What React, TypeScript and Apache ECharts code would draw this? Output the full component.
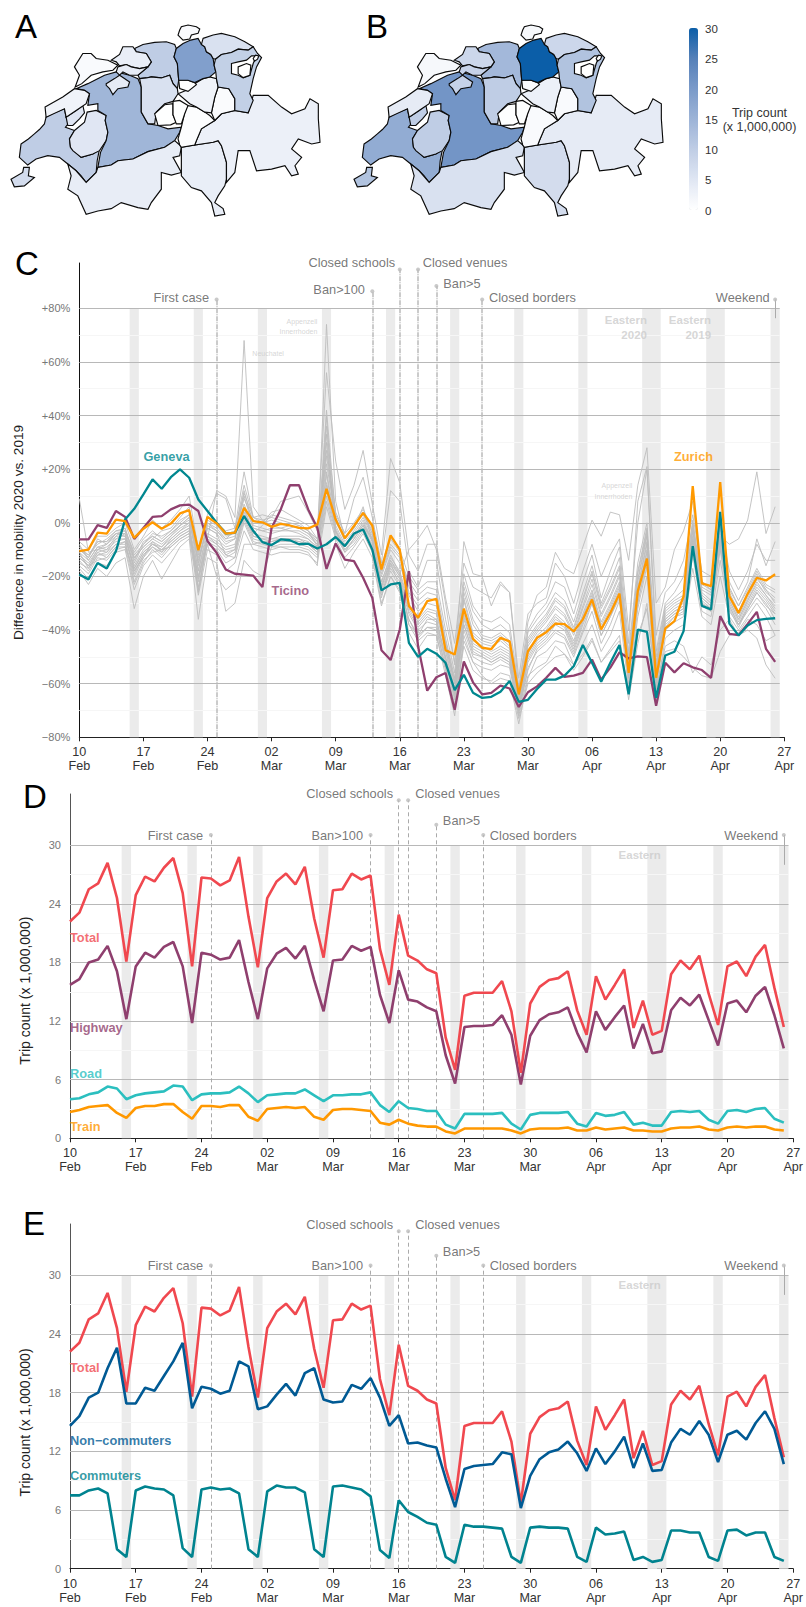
import React, { useEffect, useRef } from "react";
import * as echarts from "echarts";

const FONT = "'Liberation Sans', Arial, sans-serif";

/* ---------- data ---------- */
const xTickLabels = ["10\nFeb","17\nFeb","24\nFeb","02\nMar","09\nMar","16\nMar","23\nMar","30\nMar","06\nApr","13\nApr","20\nApr","27\nApr"];
const weekendDays = [6,13,20,27,34,41,48,55,62,69,76];
const easterC = [[61.5,63.5],[68.5,70.5]];
const easterDE = [[61.5,63.5]];

const zurich = [-10.6,-10,-3.7,-4,1.2,0.6,-5.6,-2.2,0.2,-2.2,-0.3,3.5,4.7,-10.2,2.2,-0.2,-4,-3.7,5.6,0.6,0.2,-1.5,-0.4,-1,-1.9,-2.1,-0.6,12.7,1.2,-5.8,-1.2,3.7,-1,-17.4,-4.7,-10,-31,-35.4,-29.2,-28.4,-47.5,-49.1,-32,-43.3,-46.6,-47.1,-42.9,-44.2,-64,-47.9,-42.9,-40.8,-37.6,-37.8,-40.5,-36,-28.6,-39.8,-33.6,-26.4,-56,-25.5,-13.3,-57.8,-39.4,-36.7,-27.4,13.7,-22.6,-23.6,15.2,-27.4,-33.6,-26.5,-20.5,-21.5,-19.2];
const geneva = [-19.3,-21.1,-15,-17,-10.6,1.2,5.2,10.6,16.2,12.7,17,19.9,16.8,8.7,4.4,0,-4,-3.7,2.5,-3,-7.2,-8.3,-6.2,-6.5,-8,-7.8,-9.6,-8,-5.3,-8.7,-4,-2.5,-10,-25.2,-23,-22.4,-44.8,-50,-47,-48.8,-52.2,-62.4,-56.7,-63.4,-65.3,-64.9,-63,-59,-66.8,-66,-62,-58.5,-58.5,-57,-53.5,-45.6,-52.2,-59.3,-52.2,-45.6,-64,-39.8,-40.7,-65.3,-49.5,-48.1,-40.4,-8.7,-31,-32.3,4.1,-37.6,-42,-38.3,-36.3,-35.8,-35.6];
const ticino = [-6.2,-6.2,-0.9,-1.9,4.4,2.2,-6,-1.9,2.2,2.5,5,6.5,6.8,4.4,-6.8,-11.2,-17.4,-19,-19.3,-19.7,-24,-1.9,5,14,14,5,-1.9,-17.2,-7.7,-13.7,-14.3,-20.5,-28,-47.5,-51.2,-39.8,-18,-46,-62.6,-57.6,-56,-69.7,-51.7,-59.5,-64,-63.4,-60.7,-61.8,-68.7,-63.2,-61,-57.8,-54.1,-57.5,-57,-56,-51,-58.5,-54,-48.3,-50.6,-49.8,-50.1,-68.2,-52.2,-55.8,-52.4,-53.9,-54.9,-57.8,-34.8,-41.4,-41.9,-37.7,-33.2,-47,-51.9];

const gray01 = [9,-11,-10,-8,-4,-5,-17,-11,-8,-9,-5,-1,2,-18,-2,-4,-12,-13,6,-4,-1,3,2,1,0,-3,-9,74,8,-6,-2,6,-7,-22,-12,-19,-10,-6,-1,-10,-30,-53,-7,-19,-20,-31,-23,-26,-62,-37,-27,-24,-11,-17,-19,-9,1,-5,4,3,-14,14,28,-30,-24,-10,-3,8,-22,-25,-5,-8,-6,1,19,-4,6];
const gray02 = [-12,-16,-10,-11,-6,-4,-18,-13,-7,-11,-6,-3,0,-26,-6,12,10,2,68,6,1,-1,-2,-3,-4,-6,-10,30,-3,-9,-5,-1,-6,-24,-14,-20,-38,-42,-36,-36,-50,-64,-38,-49,-50,-52,-50,-52,-70,-55,-47,-44,-40,-42,-49,-40,-30,-42,-35,-28,-58,-30,-14,-60,-39,-35,-34,-6,-30,-33,-5,-31,-38,-32,-26,-31,-34];
const gray03 = [-18,-23,-17,-20,-15,-13,-32,-20,-14,-21,-15,-9,-6,-36,-13,-15,-33,-30,-14,-18,-20,-9,-9,-10,-10,-11,-16,40,-8,-17,-11,-6,-13,-31,-20,-25,-41,-47,-42,-42,-55,-70,-44,-52,-54,-55,-53,-54,-72,-57,-54,-52,-46,-49,-53,-49,-43,-52,-47,-42,-66,-45,-30,-62,-46,-44,-46,-56,-50,-53,-40,-36,-42,-40,-43,-53,-58];
const gray04 = [-7,-10,-5,-5,-2,0,-10,-5,1,-2,1,5,10,-10,3,11,9,-2,19,2,3,2,8,9,10,4,-3,56,23,5,14,27,7,-12,24,15,-12,-18,-8,-8,-28,-45,-15,-24,-26,-28,-22,-26,-58,-34,-30,-28,-15,-20,-30,-18,-8,-20,-12,-6,-40,0,20,-42,-26,-22,-14,3,-18,-20,0,-18,-25,-18,-8,-14,-14];
const gray05 = [-9,-13,-7,-7,-3,-2,-12,-8,-4,-5,-3,1,3,-15,0,-3,-7,-6,12,-1,-2,-3,-3,-2,-1,-3,-7,22,2,-6,-1,3,-4,-19,-9,-13,-22,-27,-24,-25,-43,-58,-24,-36,-42,-43,-41,-44,-65,-43,-38,-34,-28,-31,-39,-28,-18,-31,-24,-16,-50,-18,-2,-52,-33,-30,-28,-2,-25,-27,-2,-26,-33,-26,-19,-25,-28];
const gray06 = [-12,-15,-10,-9,-6,-6,-16,-10,-7,-9,-6,-3,-1,-18,-4,-6,-9,-8,5,-4,-5,-6,-5,-5,-5,-6,-9,15,-1,-8,-4,1,-6,-22,-13,-18,-30,-36,-32,-33,-47,-62,-32,-44,-46,-48,-46,-48,-68,-48,-42,-39,-34,-37,-44,-34,-25,-37,-30,-22,-54,-24,-7,-56,-36,-33,-31,-5,-28,-31,-6,-29,-36,-29,-22,-27,-31];
const gray07 = [-14,-18,-12,-12,-8,-8,-20,-13,-9,-12,-8,-5,-3,-24,-7,-9,-13,-11,1,-7,-8,-9,-8,-8,-8,-9,-12,10,-4,-10,-7,-2,-8,-26,-17,-22,-34,-40,-37,-38,-52,-66,-38,-48,-50,-52,-50,-52,-70,-52,-46,-43,-38,-40,-48,-38,-30,-42,-35,-27,-58,-30,-13,-60,-38,-35,-33,-9,-31,-33,-10,-32,-39,-32,-26,-30,-36];
const gray08 = [-17,-21,-15,-16,-11,-10,-25,-16,-12,-15,-11,-7,-5,-27,-10,-12,-18,-15,-3,-10,-11,-12,-11,-11,-11,-12,-15,6,-6,-13,-9,-4,-11,-30,-20,-26,-38,-44,-41,-42,-57,-72,-42,-52,-57,-60,-58,-59,-75,-58,-50,-48,-44,-45,-53,-45,-38,-48,-42,-33,-62,-35,-20,-64,-43,-40,-38,-17,-35,-38,-20,-35,-40,-35,-30,-35,-42];
const gray09 = [-10,-12,-8,-6,-3,-3,-14,-7,-5,-7,-4,-1,2,-12,1,-1,-5,-4,9,1,0,1,0,-1,-2,-4,-8,19,0,-5,-2,4,-3,-17,-6,-11,-26,-31,-28,-29,-45,-60,-28,-41,-44,-45,-43,-46,-66,-45,-40,-36,-31,-34,-41,-31,-21,-34,-27,-19,-52,-21,-4,-54,-35,-32,-30,-3,-26,-29,-4,-27,-34,-27,-20,-26,-29];
const gray10 = [-13,-16,-14,-13,-9,-7,-22,-14,-11,-10,-9,-6,-4,-20,-8,-20,-25,-22,-8,-8,-7,-7,-6,-6,-7,-8,-11,33,-3,-11,-6,-1,-9,-28,-15,-24,-36,-43,-39,-39,-54,-68,-46,-55,-58,-59,-56,-57,-73,-60,-56,-53,-50,-49,-55,-50,-44,-52,-48,-44,-63,-42,-32,-62,-48,-47,-50,-54,-57,-58,-48,-42,-41,-36,-38,-44,-42];
const gray11 = [-8,-14,-9,-10,-5,-2,-13,-9,-6,-3,-2,2,6,-16,0,-2,-6,-3,14,2,0,4,5,3,1,-1,-6,27,4,-4,9,17,2,-15,12,8,-18,-24,-14,-14,-36,-52,-19,-31,-36,-37,-35,-38,-62,-40,-34,-30,-22,-24,-34,-22,-12,-28,-18,-9,-45,8,21,-48,-30,-26,-20,0,-22,-24,-1,-22,-29,-22,-6,-16,-7];
const gray12 = [-15,-17,-11,-13,-9,-9,-18,-12,-8,-10,-7,-4,-2,-21,-5,-8,-11,-10,3,-5,-6,-7,-6,-6,-6,-8,-10,12,-3,-9,-5,0,-7,-24,-15,-20,-32,-38,-34,-36,-50,-64,-35,-46,-48,-50,-48,-50,-69,-50,-44,-41,-36,-38,-46,-36,-27,-39,-32,-24,-56,-27,-10,-58,-37,-34,-32,-7,-29,-32,-8,-30,-37,-30,-24,-28,-33];
const gray13 = [-11,-14,-9,-8,-5,-5,-13,-9,-6,-8,-5,-2,0,-13,-2,-4,-8,-6,7,-2,-3,-4,-3,-3,-3,-5,-8,25,1,-7,-3,2,-5,-20,-10,-15,-27,-33,-30,-31,-46,-60,-29,-42,-45,-46,-44,-47,-67,-46,-41,-37,-32,-35,-42,-32,-23,-35,-28,-20,-53,-22,-5,-55,-34,-31,-29,-3,-27,-30,-5,-28,-35,-28,-21,-25,-30];
const gray14 = [-13,-16,-11,-10,-7,-6,-17,-11,-8,-10,-7,-4,-2,-20,-5,-7,-10,-9,4,-5,-6,-6,-6,-6,-6,-7,-10,18,-2,-9,-5,0,-6,-23,-14,-19,-31,-37,-33,-34,-48,-63,-34,-45,-47,-49,-47,-49,-69,-49,-43,-40,-35,-38,-45,-35,-26,-38,-31,-23,-55,-25,-8,-57,-36,-33,-31,-6,-28,-31,-7,-29,-36,-29,-23,-27,-32];
const gray15 = [-10,-13,-6,-8,-4,-4,-15,-8,-5,-7,-4,-1,1,-14,-1,-3,-6,-5,10,-2,-3,-2,-2,-1,-2,-4,-7,42,2,-6,-2,4,-4,-18,-8,-12,-24,-29,-26,-27,-44,-59,-26,-38,-43,-44,-42,-45,-66,-44,-39,-35,-29,-32,-40,-29,-19,-32,-25,-17,-51,-19,-3,-53,-32,-29,-27,-1,-24,-26,-1,-25,-31,-25,-18,-24,-26];
const gray16 = [-16,-19,-13,-14,-10,-9,-23,-15,-10,-13,-9,-6,-4,-25,-8,-10,-15,-13,0,-8,-9,-10,-9,-9,-9,-10,-13,8,-5,-11,-8,-3,-9,-27,-18,-24,-36,-42,-39,-40,-54,-68,-40,-50,-52,-53,-51,-53,-71,-54,-48,-45,-41,-43,-50,-41,-33,-45,-38,-29,-60,-32,-16,-61,-40,-37,-35,-12,-33,-35,-14,-33,-38,-33,-28,-32,-38];
const gray17 = [-9,-12,-7,-7,-4,-3,-11,-6,-3,-6,-3,0,3,-11,2,0,-3,-2,11,2,1,2,1,0,-1,-3,-6,36,3,-4,0,5,-2,-16,-5,-10,-20,-25,-22,-22,-40,-56,-22,-33,-38,-40,-38,-41,-64,-41,-36,-32,-26,-29,-37,-26,-16,-30,-22,-13,-48,-15,0,-50,-31,-28,-25,1,-23,-25,1,-24,-31,-24,-17,-23,-25];
const gray18 = [-11,-17,-12,-11,-8,-7,-19,-12,-9,-11,-8,-5,-3,-22,-6,-8,-12,-10,2,-6,-7,-8,-7,-7,-7,-8,-11,14,-3,-10,-6,-1,-7,-25,-16,-21,-33,-39,-35,-37,-51,-65,-36,-47,-49,-51,-49,-51,-70,-51,-45,-42,-37,-39,-47,-37,-28,-40,-33,-25,-57,-28,-11,-59,-37,-34,-32,-8,-30,-32,-9,-31,-38,-31,-25,-29,-34];
const grayLines = [gray01,gray02,gray03,gray04,gray05,gray06,gray07,gray08,gray09,gray10,gray11,gray12,gray13,gray14,gray15,gray16,gray17,gray18];

const total = [22.2,23.1,25.5,26.1,28.2,24.6,18.1,24.9,26.8,26.3,27.7,28.7,25.1,17.6,26.7,26.6,25.9,26.4,28.8,22.7,17.5,24.6,26.3,27.1,26,27.8,22.5,18.5,25.4,25.5,27.1,26.5,26.9,19.4,15.7,22.9,18.7,18.2,17.3,16.9,10.3,7,14.6,14.9,14.9,14.9,16.1,13,6.7,13.8,15.5,16.2,16.4,17.1,13.1,10.6,16.6,14.2,15.7,17.3,11.3,14.1,10.6,11,16.8,18.2,17.3,18.7,14.8,11.6,17.6,18.1,16.6,18.6,19.8,15.4,11.4];
const highway = [15.7,16.3,18,18.3,19.7,17.1,12.2,17.6,19,18.5,19.6,20.1,17.6,11.8,19,18.8,18.3,18.5,20.3,16,12.2,17.4,18.9,19.5,18.4,19.7,16.2,13,18.2,18.3,19.7,19.2,19.6,14.7,11.8,17.2,14.2,14,13.4,13,8.5,5.6,11.4,11.5,11.5,11.6,12.6,10.6,5.5,10.5,12.1,12.7,12.9,13.4,10.8,8.8,13,11.1,12.4,13.6,9.2,11.7,8.7,8.9,13.1,14.4,13.6,14.7,12.1,9.5,13.8,14.1,12.9,14.6,15.5,12.6,9.2];
const road = [4,4.1,4.5,4.7,5.3,5.1,4,4.4,4.6,4.7,4.8,5.4,5.3,3.9,4.5,4.6,4.6,4.7,5.3,4.6,3.7,4.4,4.5,4.6,4.6,5,4.4,3.8,4.4,4.4,4.5,4.5,4.7,3.4,2.7,3.8,3.1,3,2.8,2.8,1.4,1,2.5,2.5,2.5,2.5,2.6,1.5,0.9,2.4,2.6,2.6,2.6,2.7,1.5,1.2,2.6,2.3,2.4,2.7,1.4,1.6,1.3,1.3,2.7,2.8,2.7,2.8,1.9,1.5,2.8,2.9,2.7,3,3.1,2,1.6];
const train = [2.7,2.9,3.2,3.3,3.4,2.6,2.1,3.1,3.3,3.3,3.5,3.5,2.7,2,3.3,3.3,3.2,3.4,3.4,2.2,1.8,3,3.1,3.2,3.1,3.2,2.2,1.9,2.9,3,3,2.9,2.8,1.6,1.4,1.9,1.5,1.3,1.2,1.2,0.7,0.5,1,1,1,1,1,0.8,0.5,0.9,1,1,1,1.1,0.8,0.8,1.1,0.9,1,1.1,0.8,0.8,0.7,0.7,1,1.1,1.1,1.2,0.9,0.8,1.1,1.2,1.1,1.2,1.2,0.9,0.8];
const nonCommuters = [14.6,15.6,17.5,18,20.5,22.6,16.9,16.9,18.5,18.2,19.7,21.2,23.1,16.4,18.6,18.4,17.9,18.2,21.2,20.7,16.3,16.6,17.8,18.9,17.7,20,20.5,17.3,17,17.1,18.8,18.4,19.5,17.5,14.6,15.7,12.8,12.9,12.6,12.4,9.2,6.3,10.2,10.5,10.6,10.7,11.9,11.7,6.2,9.5,11.2,11.9,12.2,13,11.8,10,12.3,10.7,12,13.5,10.3,12.8,10,10.1,12.9,14.3,13.7,15.1,13.7,10.9,13.7,14.1,13.2,14.9,16.1,14.3,10.7];
const commuters = [7.5,7.5,8,8.2,7.7,2,1.2,8,8.4,8.2,8.1,7.5,2.1,1.2,8.1,8.3,8.1,8.2,7.7,2,1.2,7.9,8.5,8.3,8.3,7.8,2,1.2,8.4,8.5,8.3,8.1,7.4,1.9,1.1,7,5.8,5.3,4.7,4.5,1.2,0.6,4.5,4.3,4.3,4.2,4.1,1.2,0.6,4.2,4.3,4.2,4.2,4.1,1.2,0.7,4.2,3.5,3.6,3.8,0.9,1.2,0.7,0.9,3.9,3.9,3.7,3.7,1.2,0.8,3.9,4,3.4,3.7,3.7,1.2,0.8];

const cantonNames = ["ZH","BE","AG","VD","SG","TG","LU","FR","SO","BL","NE","GE","VS","TI","GR","UR","SZ","GL","JU","SH","ZG","OW","NW","AR","AI","RH"];
const tripsA = [19,14.5,10,10,9.5,6,6,5,4,3.5,2.5,7,3.7,3.5,3,0.5,2.5,0.8,1,1,0.3,0.1,0.1,0,0,0];
const tripsB = [30,21,14,16.5,12,8,10,10,9,8,4,12,6,7,4,1,3,1,1.5,1.5,1,0.3,0.3,0,0,0];
const legendTicks = [30,25,20,15,10,5,0];

/* canton outlines */
const cantonShapes: Record<string, number[][][]> = {
  VD: [[[50,355],[72,340],[90,325],[105,312],[120,295],[125,275],[150,262],[180,250],[185,275],[210,265],[195,290],[183,305],[210,315],[195,340],[198,365],[230,395],[265,385],[285,370],[278,405],[275,440],[245,470],[230,450],[215,435],[190,415],[165,395],[130,390],[95,400],[70,418],[45,395]]],
  FR: [[[210,315],[240,290],[248,260],[275,255],[305,270],[302,285],[310,320],[305,345],[285,375],[265,385],[230,395],[205,375],[198,365],[195,340]],[[185,275],[215,255],[235,240],[240,262],[225,280],[205,300],[190,300]]],
  BE: [[[215,190],[250,175],[300,150],[335,140],[375,150],[400,160],[410,185],[410,260],[430,295],[460,300],[490,310],[530,305],[525,320],[510,345],[480,365],[430,378],[385,400],[340,405],[320,418],[280,425],[288,380],[305,345],[310,320],[302,285],[305,270],[280,255],[280,235],[250,240],[255,205],[240,195]]],
  AG: [[[390,70],[415,58],[450,52],[485,50],[510,58],[515,70],[508,95],[518,115],[520,140],[522,165],[518,190],[505,175],[495,150],[470,158],[440,155],[425,158],[405,160],[400,150],[430,125],[440,110],[425,85],[395,80]]],
  BL: [[[320,105],[345,88],[355,65],[385,65],[395,80],[425,85],[440,110],[430,125],[405,130],[380,125],[365,118],[345,122],[335,110]]],
  JU: [[[210,125],[235,85],[260,85],[275,100],[310,105],[340,120],[325,135],[295,140],[260,150],[232,175],[212,185],[225,150]]],
  SO: [[[340,125],[365,118],[380,125],[405,130],[430,125],[400,150],[375,150],[355,140],[345,150],[335,140]],[[305,175],[330,160],[345,150],[375,170],[370,185],[340,190],[325,208],[315,190],[305,180]]],
  NE: [[[122,245],[175,215],[210,190],[240,195],[255,205],[245,235],[215,255],[185,275],[180,250],[125,275]]],
  GE: [[[20,460],[55,440],[58,425],[75,425],[72,450],[90,455],[60,480],[30,483]]],
  VS: [[[190,415],[215,435],[245,470],[275,440],[280,425],[320,418],[340,405],[385,400],[430,378],[480,365],[510,345],[525,358],[530,365],[525,390],[505,395],[530,440],[500,448],[470,440],[470,490],[440,530],[430,550],[400,545],[350,530],[320,548],[280,555],[245,565],[220,510],[190,490],[200,450]]],
  TI: [[[530,365],[570,358],[625,350],[640,345],[650,360],[665,410],[665,460],[660,480],[640,510],[630,530],[655,548],[660,565],[630,570],[620,530],[590,495],[560,485],[530,450],[530,400]]],
  GR: [[[575,345],[590,310],[630,285],[650,265],[690,255],[730,262],[745,210],[790,210],[830,245],[860,265],[900,250],[915,220],[940,235],[940,280],[945,350],[920,355],[880,340],[860,370],[890,395],[870,420],[880,445],[860,450],[840,420],[800,430],[755,435],[735,375],[700,375],[690,440],[665,470],[665,410],[650,360],[640,345],[625,350],[570,358]]],
  UR: [[[530,305],[545,240],[575,245],[600,260],[615,270],[630,285],[590,310],[575,345],[570,358],[530,365],[525,358],[520,340]]],
  GL: [[[620,262],[630,215],[640,185],[672,190],[690,220],[690,255],[650,265],[630,285]]],
  SZ: [[[520,205],[545,195],[570,175],[595,160],[615,155],[635,160],[640,185],[630,215],[620,262],[600,260],[575,245],[555,235]]],
  ZG: [[[522,165],[550,165],[570,172],[575,178],[550,198],[525,190]]],
  LU: [[[405,160],[425,158],[440,155],[470,158],[495,150],[505,175],[518,190],[520,205],[505,228],[480,235],[455,260],[450,295],[430,295],[410,260],[410,185]]],
  OW: [[[450,265],[480,238],[505,235],[505,268],[515,290],[498,298],[460,300]]],
  NW: [[[505,228],[525,225],[550,240],[540,265],[530,295],[515,295],[505,268]]],
  SH: [[[525,15],[530,5],[550,0],[575,5],[585,12],[580,25],[560,30],[555,42],[535,45],[520,30]]],
  ZH: [[[558,45],[580,40],[590,58],[600,65],[605,80],[618,88],[625,100],[628,120],[633,140],[615,155],[595,160],[570,172],[550,165],[522,165],[520,140],[518,115],[508,95],[515,70],[535,55]]],
  TG: [[[595,40],[625,30],[650,25],[690,35],[720,50],[745,65],[730,75],[700,72],[680,82],[650,88],[632,102],[625,100],[618,88],[605,80],[600,65],[590,58]]],
  SG: [[[632,102],[650,88],[680,82],[700,72],[730,75],[745,65],[758,85],[770,97],[755,125],[745,160],[735,205],[745,225],[730,262],[690,255],[690,220],[672,190],[640,185],[635,160],[633,140],[628,120]]],
  AR: [[[680,115],[700,110],[725,105],[740,92],[755,92],[745,115],[735,150],[715,158],[700,150],[680,145]]],
  AI: [[[700,125],[725,115],[738,120],[735,150],[715,157],[700,145]]],
  RH: [[[745,100],[752,90],[762,92],[758,102],[749,108]]],
};

const geoJson = {
  type: "FeatureCollection",
  features: Object.keys(cantonShapes).map((name) => ({
    type: "Feature",
    properties: { name },
    geometry: {
      type: "MultiPolygon",
      coordinates: cantonShapes[name].map((ring) => [ring.map(([x, y]) => [x, -y])]),
    },
  })),
};

/* ---------- panels ---------- */
const C_EVENTS = [
  { day: 15, top: 83.3 }, { day: 32, top: 86.4 }, { day: 35, top: 94.5 },
  { day: 37, top: 94.5 }, { day: 39, top: 88.3 }, { day: 44, top: 83.3 },
];
const D_EVENTS = [
  { day: 15, top: 31.05 }, { day: 32, top: 31.05 }, { day: 35, top: 34.6 },
  { day: 36, top: 34.6 }, { day: 39, top: 32.1 }, { day: 44, top: 31.05 },
];
const E_EVENTS = [
  { day: 15, top: 31 }, { day: 32, top: 31 }, { day: 35, top: 34.5 },
  { day: 36, top: 34.5 }, { day: 39, top: 32 }, { day: 44, top: 31 },
];

const GRAY_TXT = "#555555";
type Note = [string, number, number, "l" | "r", string, number, string];
const cNotes: Note[] = [
  ["First case",14.17,84.2,"r",GRAY_TXT,12.8,"normal"],
  ["Ban>100",31.2,87,"r",GRAY_TXT,12.8,"normal"],
  ["Closed schools",34.5,97.2,"r",GRAY_TXT,12.8,"normal"],
  ["Closed venues",37.5,97.2,"l",GRAY_TXT,12.8,"normal"],
  ["Ban>5",39.75,89.2,"l",GRAY_TXT,12.8,"normal"],
  ["Closed borders",44.75,84.2,"l",GRAY_TXT,12.8,"normal"],
  ["Weekend",75.4,84.2,"r",GRAY_TXT,12.8,"normal"],
  ["Geneva",7,24.9,"l","#00878f",12.8,"bold"],
  ["Ticino",21,-25.1,"l","#8f3f6e",12.8,"bold"],
  ["Zurich",64.95,24.9,"l","#ff9900",12.8,"bold"],
  ["Eastern",62,75.5,"r","#cccccc",11.5,"bold"],
  ["2020",62,69.9,"r","#cccccc",11.5,"bold"],
  ["Eastern",69,75.5,"r","#cccccc",11.5,"bold"],
  ["2019",69,69.9,"r","#cccccc",11.5,"bold"],
  ["Appenzell",26,75.2,"r","#cccccc",7,"normal"],
  ["Innerrhoden",26,71.3,"r","#cccccc",7,"normal"],
  ["Neuchatel",18.9,63,"l","#cccccc",7,"normal"],
  ["Appenzell",60.4,14,"r","#cccccc",7,"normal"],
  ["Innerrhoden",60.4,9.9,"r","#cccccc",7,"normal"],
];
const eventNotes = (y1: number, y2: number, y3: number): Note[] => [
  ["First case",14.18,y1,"r",GRAY_TXT,12.8,"normal"],
  ["Ban>100",31.2,y1,"r",GRAY_TXT,12.8,"normal"],
  ["Closed schools",34.4,y2,"r",GRAY_TXT,12.8,"normal"],
  ["Closed venues",36.75,y2,"l",GRAY_TXT,12.8,"normal"],
  ["Ban>5",39.7,y3,"l",GRAY_TXT,12.8,"normal"],
  ["Closed borders",44.7,y1,"l",GRAY_TXT,12.8,"normal"],
  ["Weekend",75.4,y1,"r",GRAY_TXT,12.8,"normal"],
];
const dNotes: Note[] = [
  ...eventNotes(31,35.3,32.5),
  ["Total",0,20.6,"l","#f0484f",12.8,"bold"],
  ["Highway",0,11.3,"l","#8f3f6e",12.8,"bold"],
  ["Road",0,6.6,"l","#2bbfbf",12.8,"bold"],
  ["Train",0,1.2,"l","#ff9800",12.8,"bold"],
  ["Eastern",62.9,29,"r","#cccccc",11.5,"bold"],
];
const eNotes: Note[] = [
  ...eventNotes(31,35.2,32.4),
  ["Total",0,20.55,"l","#f0484f",12.8,"bold"],
  ["Non\u2212commuters",0,13.1,"l","#005a94",12.8,"bold"],
  ["Commuters",0,9.5,"l","#00838f",12.8,"bold"],
  ["Eastern",62.9,29,"r","#cccccc",11.5,"bold"],
];

function buildOption() {
  const grids: any[] = [];
  const xAxes: any[] = [];
  const yAxes: any[] = [];
  const series: any[] = [];

  const panel = (idx: number, cfg: any) => {
    grids.push({ left: cfg.left, top: cfg.top, width: cfg.width, height: cfg.height });
    xAxes.push({
      type: "value", gridIndex: idx, min: 0, max: 77, interval: 7,
      splitLine: { show: false },
      axisLine: { onZero: false, lineStyle: { color: "#222", width: 1 } },
      axisTick: { length: 4, lineStyle: { color: "#222", width: 1 } },
      axisLabel: {
        margin: 8, fontSize: 12.6, lineHeight: 14, color: "#333", fontFamily: FONT,
        formatter: (v: number) => xTickLabels[Math.round(v / 7)],
      },
    });
    yAxes.push({
      type: "value", gridIndex: idx, min: cfg.yMin, max: cfg.yMax, interval: cfg.yStep,
      splitLine: { show: false },
      axisTick: { show: false },
      axisLine: { show: true, onZero: false, lineStyle: { color: cfg.axisColor, width: 1 } },
      axisLabel: {
        margin: 9, fontSize: 11, color: "#777", fontFamily: FONT, showMaxLabel: false,
        formatter: cfg.yFmt,
      },
    });
    const base = { xAxisIndex: idx, yAxisIndex: idx, silent: true, symbol: "none", animation: false };
    const ghost = { data: [[0, cfg.yTop]], lineStyle: { opacity: 0 } };
    const bands: number[][] = [
      ...cfg.weekends.map((d: number) => [d - 0.5, d + 0.5]),
      ...cfg.easter,
    ];
    series.push({
      ...base, ...ghost, type: "line", z: 1,
      markArea: {
        silent: true, z: 1, itemStyle: { color: "#ebebeb" },
        data: bands.map(([a, b]) => [{ coord: [a, cfg.yTop] }, { coord: [b, cfg.yMin] }]),
      },
    });
    const major: number[] = [];
    const minor: number[] = [];
    for (let v = cfg.yMin + cfg.yStep; v <= cfg.yTop; v += cfg.yStep) major.push(v);
    for (let v = cfg.yMin + cfg.yStep / 2; v < cfg.yTop; v += cfg.yStep) minor.push(v);
    series.push({
      ...base, ...ghost, type: "line", z: 2,
      markLine: {
        silent: true, z: 2, symbol: ["none", "none"], label: { show: false },
        data: [
          ...minor.map((v) => [
            { coord: [0, v], lineStyle: { color: "#f6f6f6", width: 1, type: "solid" } },
            { coord: [76.5, v] },
          ]),
          ...major.map((v) => [
            { coord: [0, v], lineStyle: { color: "#b8b8b8", width: 1, type: "solid" } },
            { coord: [76.5, v] },
          ]),
        ],
      },
    });
    series.push({
      ...base, ...ghost, type: "line", z: 3,
      markLine: {
        silent: true, z: 3, symbol: ["none", "none"], label: { show: false },
        data: [
          ...cfg.events.map((e: any) => [
            { coord: [e.day, cfg.yMin], lineStyle: cfg.eventStyle },
            { coord: [e.day, e.top] },
          ]),
          [
            { coord: [76, cfg.weekend[0]], lineStyle: { color: "#aaaaaa", width: 1, type: "solid" } },
            { coord: [76, cfg.weekend[1]] },
          ],
        ],
      },
    });
    series.push({
      type: "scatter", xAxisIndex: idx, yAxisIndex: idx, silent: true, clip: false, z: 3,
      symbol: "circle", symbolSize: 4, itemStyle: { color: "#bbbbbb" },
      data: [...cfg.events.map((e: any) => [e.day, e.top]), [76, cfg.weekend[0]]],
    });
    (cfg.gray || []).forEach((arr: number[], i: number) => {
      series.push({
        ...base, type: "line", z: 4, name: `canton-${i}`,
        data: arr.map((v, d) => [d, v]),
        lineStyle: { color: "#bdbdbd", width: 0.9 },
      });
    });
    cfg.lines.forEach(([name, arr, color]: [string, number[], string]) => {
      series.push({
        ...base, type: "line", z: 5, name,
        data: arr.map((v, d) => [d, v]),
        lineStyle: { color, width: cfg.lineWidth }, clip: false,
      });
    });
    series.push({
      type: "scatter", xAxisIndex: idx, yAxisIndex: idx, silent: true, clip: false, z: 6,
      symbolSize: 0,
      data: cfg.notes.map((n: Note) => ({
        value: [n[1], n[2]],
        label: {
          show: true, position: n[3] === "l" ? "right" : "left", distance: 0,
          formatter: () => n[0], color: n[4], fontSize: n[5], fontWeight: n[6], fontFamily: FONT,
        },
      })),
    });
  };

  const mapBase = {
    type: "map", aspectScale: 1, preserveAspect: false, roam: false, silent: true,
    top: 25, width: 309, height: 191, selectedMode: false, showLegendSymbol: false,
    emphasis: { disabled: true }, label: { show: false },
    itemStyle: { borderColor: "#0a0a0a", borderWidth: 1.15 },
  };
  series.push({ ...mapBase, map: "swissA", left: 11, data: cantonNames.map((name, i) => ({ name, value: tripsA[i] })) });
  series.push({ ...mapBase, map: "swissB", left: 354, data: cantonNames.map((name, i) => ({ name, value: tripsB[i] })) });

  panel(0, {
    left: 79.3, top: 263, width: 705, height: 474.3, yMin: -80, yMax: 96.9, yStep: 20, yTop: 80,
    axisColor: "#111", lineWidth: 2.3,
    yFmt: (v: number) => (v > 0 ? `+${v}%` : v < 0 ? `\u2212${-v}%` : "0%"),
    weekends: weekendDays, easter: easterC,
    events: C_EVENTS, eventStyle: { color: "#bbbbbb", width: 1.5, type: [5, 1, 1, 1] },
    weekend: [83.3, 76.3],
    gray: grayLines,
    lines: [["Ticino", ticino, "#8f3f6e"], ["Geneva", geneva, "#00878f"], ["Zurich", zurich, "#ff9900"]],
    notes: cNotes,
  });
  panel(1, {
    left: 70, top: 794, width: 725.7, height: 344.3, yMin: 0, yMax: 35.25, yStep: 6, yTop: 30,
    axisColor: "#555", lineWidth: 2.6,
    yFmt: (v: number) => `${v}`,
    weekends: weekendDays, easter: easterDE,
    events: D_EVENTS, eventStyle: { color: "#aaaaaa", width: 1, type: [4, 3] },
    weekend: [31.05, 28],
    lines: [["Train", train, "#ff9800"], ["Road", road, "#2bbfbf"], ["Highway", highway, "#8f3f6e"], ["Total", total, "#f0484f"]],
    notes: dNotes,
  });
  panel(2, {
    left: 70, top: 1224, width: 725.7, height: 344.7, yMin: 0, yMax: 35.25, yStep: 6, yTop: 30,
    axisColor: "#555", lineWidth: 2.6,
    yFmt: (v: number) => `${v}`,
    weekends: weekendDays, easter: easterDE,
    events: E_EVENTS, eventStyle: { color: "#aaaaaa", width: 1, type: [4, 3] },
    weekend: [31, 28],
    lines: [["Commuters", commuters, "#00838f"], ["Total", total, "#f0484f"], ["Non\u2212commuters", nonCommuters, "#005a94"]],
    notes: eNotes,
  });

  const letter = (t: string, x: number, y: number) => ({
    type: "text", x, y, silent: true,
    style: { text: t, fontSize: 33, fontFamily: FONT, fill: "#000", verticalAlign: "middle" },
  });
  const yTitle = (t: string, x: number, y: number, size: number) => ({
    type: "text", x, y, rotation: Math.PI / 2, silent: true,
    style: { text: t, fontSize: size, fontFamily: FONT, fill: "#222", align: "center", verticalAlign: "middle" },
  });
  const graphic: any[] = [
    letter("A", 15, 26), letter("B", 366, 26), letter("C", 15, 263), letter("D", 23, 796), letter("E", 23, 1223),
    yTitle("Difference in mobility 2020 vs. 2019", 18, 532.5, 13.6),
    yTitle("Trip count (x 1,000,000)", 25, 990.7, 14),
    yTitle("Trip count (x 1,000,000)", 25, 1422.5, 14),
    { type: "text", x: 759.5, y: 113, silent: true, style: { text: "Trip count", fontSize: 12.5, fontFamily: FONT, fill: "#333", align: "center", verticalAlign: "middle" } },
    { type: "text", x: 759.5, y: 126.7, silent: true, style: { text: "(x 1,000,000)", fontSize: 12.5, fontFamily: FONT, fill: "#333", align: "center", verticalAlign: "middle" } },
  ];
  legendTicks.forEach((v) => {
    const y = 210 - v * 6.05;
    graphic.push({ type: "text", x: 705, y: y + 0.5, silent: true, style: { text: String(v), fontSize: 11.5, fontFamily: FONT, fill: "#333", verticalAlign: "middle" } });
    graphic.push({ type: "rect", silent: true, shape: { x: 689, y: y - 0.25, width: 2, height: 0.5 }, style: { fill: "#fff" } });
    graphic.push({ type: "rect", silent: true, shape: { x: 696, y: y - 0.25, width: 2, height: 0.5 }, style: { fill: "#fff" } });
  });

  return {
    animation: false,
    backgroundColor: "#ffffff",
    textStyle: { fontFamily: FONT },
    grid: grids, xAxis: xAxes, yAxis: yAxes, series, graphic,
    visualMap: {
      type: "continuous", min: 0, max: 30, seriesIndex: [0, 1], orient: "vertical",
      left: 689, top: 28, itemWidth: 9, itemHeight: 182, padding: 0, calculable: false,
      showLabel: false, text: ["", ""], hoverLink: false, realtime: false,
      inRange: { color: ["#ffffff", "#e0e6f3", "#bfcde5", "#9cb3d7", "#7a9ac9", "#5580b9", "#0b5ea8"] },
    },
  };
}

export default function App() {
  const ref = useRef<HTMLDivElement>(null);
  useEffect(() => {
    if (!ref.current) return;
    echarts.registerMap("swissA", geoJson as any);
    echarts.registerMap("swissB", geoJson as any);
    const chart = echarts.init(ref.current, undefined, { renderer: "svg" });
    chart.setOption(buildOption() as any);
    return () => chart.dispose();
  }, []);
  return <div ref={ref} style={{ position: "absolute", left: 0, top: 0, width: 806, height: 1607 }} />;
}
